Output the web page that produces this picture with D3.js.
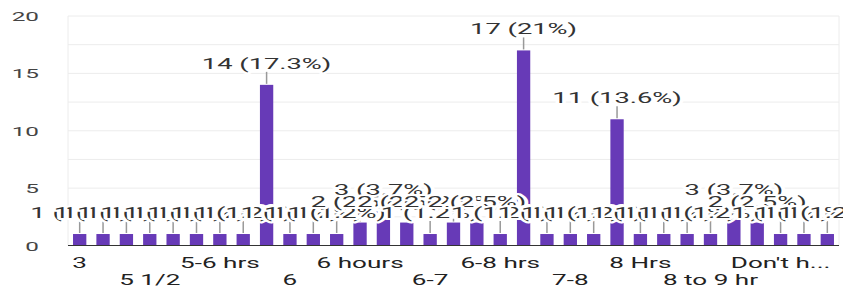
<!DOCTYPE html>
<html>
<head>
<meta charset="utf-8">
<script src="https://cdn.jsdelivr.net/npm/d3@7"></script>
<style>
  html, body { margin: 0; padding: 0; background: #fff; }
  svg { display: block; font-family: Roboto, Arial, sans-serif; }
</style>
</head>
<body>
<div id="chart"></div>
<script>
// Answers, in the order the form shows them
const categories = [
  "3", "4", "4-5", "5 1/2", "5 hours", "5-6", "5-6 hrs", "5-6 hours", "5.5-6",
  "6", "6 hrs", "6 hr", "6 hours", "6-6.5", "6-7 hours", "6-7", "6-7 hrs", "6-8",
  "6-8 hrs", "7", "7 hours", "7-8", "7-8 hrs", "8", "8 Hrs", "8 hours", "8-9",
  "8 to 9 hr", "9", "10", "Don't have a fixed time", "Depends", "Varies"
];
const counts = [
  1, 1, 1, 1, 1, 1, 1, 1, 14,
  1, 1, 1, 2, 3, 2, 1, 2, 2,
  1, 17, 1, 1, 1, 11, 1, 1, 1,
  1, 3, 2, 1, 1, 1
];
const yTicks = [0, 5, 10, 15, 20];
const gridTicks = [2.5, 5, 7.5, 10, 12.5, 15, 17.5, 20];

const width = 843, height = 290;
const plot = { left: 68, right: 839, top: 16, bottom: 245.5 };
// the picture is drawn wide, so the text is widened to match
const noteStretch = 1.95;
const axisStretch = 1.8;

const total = d3.sum(counts);
const data = categories.map((c, i) => ({ label: c, value: counts[i] }));

const svg = d3.select("#chart").append("svg")
  .attr("width", width)
  .attr("height", height);

const x = d3.scaleBand()
  .domain(categories)
  .range([plot.left, plot.right])
  .paddingInner(0.43)
  .paddingOuter(0.215);

const y = d3.scaleLinear()
  .domain([0, 20])
  .range([plot.bottom, plot.top]);

const cx = d => x(d.label) + x.bandwidth() / 2;

// grid lines and frame
svg.append("g")
  .selectAll("line")
  .data(gridTicks)
  .join("line")
  .attr("x1", plot.left)
  .attr("x2", plot.right)
  .attr("y1", d => y(d))
  .attr("y2", d => y(d))
  .attr("stroke", "#ececec")
  .attr("stroke-width", 1);

svg.append("line")
  .attr("x1", plot.left).attr("x2", plot.left)
  .attr("y1", plot.top).attr("y2", plot.bottom)
  .attr("stroke", "#ececec");
svg.append("line")
  .attr("x1", plot.right).attr("x2", plot.right)
  .attr("y1", plot.top).attr("y2", plot.bottom)
  .attr("stroke", "#ececec");

// y labels
svg.append("g")
  .selectAll("text")
  .data(yTicks)
  .join("text")
  .attr("transform", d => `translate(39,${y(d) + 5}) scale(${axisStretch},1)`)
  .attr("text-anchor", "end")
  .attr("font-size", "13.5px")
  .attr("fill", "#444")
  .text(d => d);

// bars
svg.append("g")
  .selectAll("rect")
  .data(data)
  .join("rect")
  .attr("x", d => x(d.label))
  .attr("y", d => y(d.value))
  .attr("width", x.bandwidth())
  .attr("height", d => y(0) - y(d.value))
  .attr("fill", "#673ab7");

// baseline
svg.append("line")
  .attr("x1", plot.left).attr("x2", plot.right)
  .attr("y1", y(0)).attr("y2", y(0))
  .attr("stroke", "#333")
  .attr("stroke-width", 1.2);

// annotation stems
svg.append("g")
  .selectAll("line")
  .data(data)
  .join("line")
  .attr("x1", cx)
  .attr("x2", cx)
  .attr("y1", d => y(d.value) - 1)
  .attr("y2", d => y(d.value) - 13)
  .attr("stroke", "#999")
  .attr("stroke-width", 1.5);

// annotations, each with a white halo so later ones cover earlier ones
const pct = v => +(v / total * 100).toFixed(1);
svg.append("g")
  .selectAll("text")
  .data(data)
  .join("text")
  .attr("transform", d => `translate(${cx(d)},${y(d.value) - 16}) scale(${noteStretch},1)`)
  .attr("text-anchor", "middle")
  .attr("font-size", "14px")
  .attr("fill", "#333")
  .attr("stroke", "#fff")
  .attr("stroke-width", 4)
  .attr("stroke-linejoin", "round")
  .attr("paint-order", "stroke")
  .text(d => `${d.value} (${pct(d.value)}%)`);

// x labels: every third answer, on two staggered rows
const shortLabel = s => s.length > 10 ? s.slice(0, 7) + "..." : s;
svg.append("g")
  .selectAll("text")
  .data(data.filter((d, i) => i % 3 === 0))
  .join("text")
  .attr("transform", (d, i) => `translate(${cx(d)},${i % 2 === 0 ? 268 : 284.5}) scale(${axisStretch},1)`)
  .attr("text-anchor", "middle")
  .attr("font-size", "14.5px")
  .attr("fill", "#222")
  .text(d => shortLabel(d.label));
</script>
</body>
</html>
